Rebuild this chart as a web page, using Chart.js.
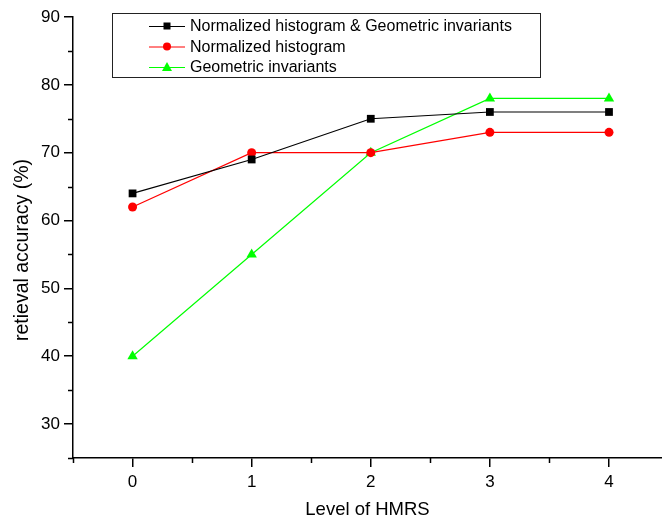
<!DOCTYPE html>
<html>
<head>
<meta charset="utf-8">
<script src="https://cdn.jsdelivr.net/npm/chart.js@4"></script>
<style>
  html, body { margin: 0; padding: 0; background: #fff; overflow: hidden; }
  #wrap { width: 668px; height: 521px; }
</style>
</head>
<body>
<div id="wrap"><canvas id="accChart"></canvas></div>
<script>
// dados
const levels = [0, 1, 2, 3, 4];
const combined = [64, 69, 75, 76, 76];
const histOnly = [62, 70, 70, 73, 73];
const geomOnly = [40, 55, 70, 78, 78];
const yTicks = [30, 40, 50, 60, 70, 80, 90];
const xTicks = [0, 1, 2, 3, 4];

const fam = '"Liberation Sans", Arial, sans-serif';
const font = { family: fam, size: 17 };

function pts(ys) {
    return levels.map((x, i) => ({ x: x, y: ys[i] }));
}

// ticks menores, título do eixo Y e legenda dentro do gráfico
const extras = {
    id: 'extras',
    afterDraw(chart) {
        const c = chart.ctx;
        const xs = chart.scales.x, ys = chart.scales.y;
        c.save();
        c.strokeStyle = '#000';
        c.lineWidth = 1.5;
        for (let v = -0.5; v <= 4.5; v += 1) {
            const px = Math.round(xs.getPixelForValue(v)) + 0.5;
            c.beginPath(); c.moveTo(px, ys.bottom); c.lineTo(px, ys.bottom + 5); c.stroke();
        }
        for (let v = 25; v <= 85; v += 10) {
            const py = Math.round(ys.getPixelForValue(v)) + 0.5;
            c.beginPath(); c.moveTo(xs.left, py); c.lineTo(xs.left - 5, py); c.stroke();
        }

        // título Y
        c.save();
        c.translate(23, 250);
        c.rotate(-Math.PI / 2);
        c.font = '19.5px ' + fam;
        c.fillStyle = '#000';
        c.textAlign = 'center';
        c.textBaseline = 'middle';
        c.fillText('retieval accuracy (%)', 0, 0);
        c.restore();

        // legenda
        const bx = 112, by = 13, bw = 428, bh = 64;
        c.lineWidth = 1;
        c.strokeStyle = '#222';
        c.strokeRect(bx + 0.5, by + 0.5, bw, bh);
        c.font = '16px ' + fam;
        c.textBaseline = 'middle';
        chart.data.datasets.forEach((ds, i) => {
            const yy = by + 13 + i * 20.5;
            c.strokeStyle = ds.borderColor;
            c.lineWidth = 1;
            c.beginPath(); c.moveTo(149, yy + 0.5); c.lineTo(185, yy + 0.5); c.stroke();
            c.fillStyle = ds.borderColor;
            const mx = 167;
            c.beginPath();
            if (ds.pointStyle === 'rect') {
                c.rect(mx - 3.5, yy - 3.5, 7, 7);
            } else if (ds.pointStyle === 'circle') {
                c.arc(mx, yy, 4, 0, Math.PI * 2);
            } else {
                c.moveTo(mx, yy - 5); c.lineTo(mx + 5, yy + 4); c.lineTo(mx - 5, yy + 4); c.closePath();
            }
            c.fill();
            c.fillStyle = '#000';
            c.fillText(ds.label, 190, yy + 1);
        });
        c.restore();
    }
};

const ctx = document.getElementById('accChart').getContext('2d');
new Chart(ctx, {
    type: 'scatter',
    data: {
        datasets: [{
            label: 'Normalized histogram & Geometric invariants',
            data: pts(combined),
            showLine: true,
            borderColor: '#000000',
            backgroundColor: '#000000',
            borderWidth: 1.2,
            pointStyle: 'rect',
            pointRadius: 5.5,
            pointBorderWidth: 0
        }, {
            label: 'Normalized histogram',
            data: pts(histOnly),
            showLine: true,
            borderColor: '#ff0000',
            backgroundColor: '#ff0000',
            borderWidth: 1.2,
            pointStyle: 'circle',
            pointRadius: 4.5,
            pointBorderWidth: 0
        }, {
            label: 'Geometric invariants',
            data: pts(geomOnly),
            showLine: true,
            borderColor: '#00ff00',
            backgroundColor: '#00ff00',
            borderWidth: 1.2,
            pointStyle: 'triangle',
            pointRadius: 6,
            pointBorderWidth: 0
        }]
    },
    options: {
        responsive: true,
        maintainAspectRatio: false,
        animation: false,
        layout: { padding: { top: 17, right: 0, bottom: 0, left: 0 } },
        plugins: {
            legend: { display: false },
            tooltip: { enabled: false }
        },
        scales: {
            x: {
                type: 'linear',
                min: -0.5,
                max: 4.445,
                afterBuildTicks: (s) => { s.ticks = xTicks.map(v => ({ value: v })); },
                afterFit: (s) => { s.height = 63; },
                border: { color: '#000', width: 1.5 },
                grid: { drawOnChartArea: false, color: '#000', lineWidth: 1.5, tickLength: 9 },
                ticks: { color: '#000', font: font, padding: 5, maxRotation: 0 },
                title: { display: true, text: 'Level of HMRS', color: '#000', font: { family: fam, size: 18.5 }, padding: { top: 4, bottom: 0 } }
            },
            y: {
                min: 25,
                max: 90,
                afterBuildTicks: (s) => { s.ticks = yTicks.map(v => ({ value: v })); },
                afterFit: (s) => { s.width = 73; },
                border: { color: '#000', width: 1.5 },
                grid: { drawOnChartArea: false, color: '#000', lineWidth: 1.5, tickLength: 9 },
                ticks: { color: '#000', font: font, padding: 4 }
            }
        }
    },
    plugins: [extras]
});
</script>
</body>
</html>
